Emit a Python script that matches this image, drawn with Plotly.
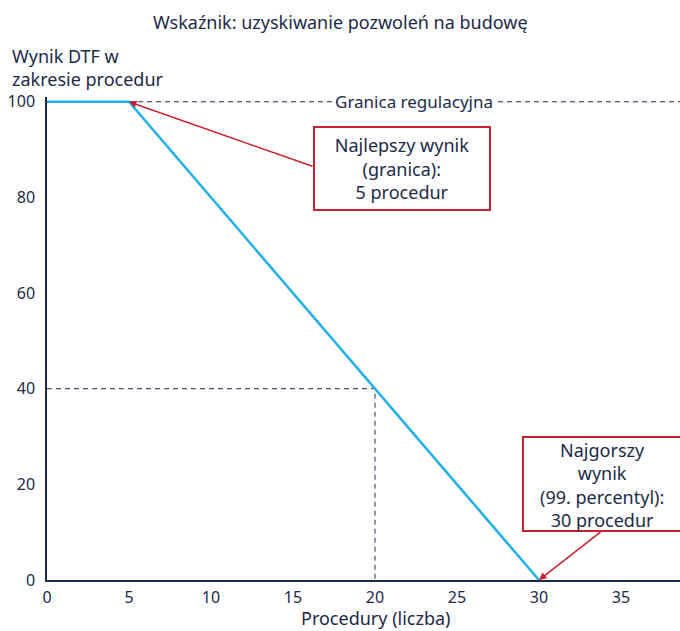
import plotly.graph_objects as go

# ---- data ----
proc_x = [0, 5, 30]
score_y = [100, 100, 0]
frontier_value = 100
frontier_proc = 5
worst_proc = 30
example_proc = 20
example_score = 40
x_ticks = [0, 5, 10, 15, 20, 25, 30, 35]
y_ticks = [0, 20, 40, 60, 80, 100]

title_text = "Wskaźnik: uzyskiwanie pozwoleń na budowę"
ytitle_text = "Wynik DTF w<br>zakresie procedur"
xtitle_text = "Procedury (liczba)"
frontier_label = "Granica regulacyjna"
best_text = "Najlepszy wynik<br>(granica):<br>5 procedur"
worst_text = "Najgorszy<br>wynik<br>(99. percentyl):<br>30 procedur"

# ---- style / layout ----
W, H = 680, 631
L, R, T, B = 47, 0, 97, 51
XMAX = 38.6
YMAX = 101
NAVY = "#1b2a48"
BLUE = "#1eb0e8"
RED = "#c8202f"
FONT = "Noto Sans"
FS = 18

fig = go.Figure()

fig.add_trace(go.Scatter(x=[0, example_proc, example_proc], y=[example_score, example_score, 0],
                         mode="lines", line=dict(color=NAVY, width=1, dash="5px,4px"),
                         hoverinfo="skip", showlegend=False))
fig.add_trace(go.Scatter(x=[frontier_proc, XMAX], y=[frontier_value, frontier_value],
                         mode="lines", line=dict(color=NAVY, width=1, dash="5px,4px"),
                         hoverinfo="skip", showlegend=False))
fig.add_trace(go.Scatter(x=proc_x, y=score_y, mode="lines",
                         line=dict(color=BLUE, width=2.5), showlegend=False))

pw = W - L - R
ph = H - T - B

def px2paper_x(px):
    return (px - L) / pw

def px2paper_y(py):
    return (H - B - py) / ph

ann = []
ann.append(dict(text=title_text, xref="paper", yref="paper", x=px2paper_x(340), y=px2paper_y(22.5),
                xanchor="center", yanchor="middle", showarrow=False,
                font=dict(size=FS, color=NAVY, family=FONT)))
ann.append(dict(text=ytitle_text, xref="paper", yref="paper", x=px2paper_x(10), y=px2paper_y(68),
                xanchor="left", yanchor="middle", align="left", showarrow=False,
                font=dict(size=FS, color=NAVY, family=FONT)))
ann.append(dict(text=xtitle_text, xref="paper", yref="paper", x=px2paper_x(376), y=px2paper_y(618),
                xanchor="center", yanchor="middle", showarrow=False,
                font=dict(size=FS, color=NAVY, family=FONT)))
ann.append(dict(text=frontier_label, x=22.38, y=frontier_value, xanchor="center", yanchor="middle",
                showarrow=False, bgcolor="white", borderpad=1,
                font=dict(size=17, color=NAVY, family=FONT)))
# best box + arrow
ann.append(dict(text=best_text, x=21.65, y=86.0, showarrow=False, bgcolor="white",
                bordercolor=RED, borderwidth=2, borderpad=2, width=170, height=77,
                font=dict(size=FS, color=NAVY, family=FONT)))
ann.append(dict(text="", x=frontier_proc, y=frontier_value, ax=16.28, ay=86.4, axref="x", ayref="y",
                showarrow=True, arrowcolor=RED, arrowwidth=1.5, arrowhead=2, arrowsize=1))
# worst box (rect shape, clipped at the right edge) + text + arrow
shapes = [dict(type="rect", xref="paper", yref="paper",
               x0=px2paper_x(523), x1=px2paper_x(700), y0=px2paper_y(531), y1=px2paper_y(437),
               line=dict(color=RED, width=2), fillcolor="white", layer="above")]
ann.append(dict(text=worst_text, xref="paper", yref="paper", x=px2paper_x(601.5),
                y=px2paper_y(485), xanchor="center", yanchor="middle",
                showarrow=False, font=dict(size=FS, color=NAVY, family=FONT)))
ann.append(dict(text="", x=worst_proc, y=0, ax=33.84, ay=10.25, axref="x", ayref="y",
                showarrow=True, arrowcolor=RED, arrowwidth=1.5, arrowhead=2, arrowsize=1))

fig.update_layout(
    width=W, height=H, margin=dict(l=L, r=R, t=T, b=B, autoexpand=False),
    plot_bgcolor="white", paper_bgcolor="white",
    font=dict(family=FONT, size=16, color=NAVY),
    annotations=ann, shapes=shapes,
    xaxis=dict(range=[0, XMAX], tickvals=x_ticks, showgrid=False, zeroline=False,
               showline=True, linecolor=NAVY, linewidth=1.5, ticks="", ticklabelstandoff=2,
               tickfont=dict(size=16, color=NAVY, family=FONT)),
    yaxis=dict(range=[0, YMAX], tickvals=y_ticks, showgrid=False, zeroline=False,
               showline=True, linecolor=NAVY, linewidth=1.5, ticks="", ticklabelstandoff=7,
               tickfont=dict(size=16, color=NAVY, family=FONT)),
)
fig.write_html("out.html", config={"displayModeBar": False},
               post_script="document.body.style.margin='0';document.body.style.overflow='hidden';")
